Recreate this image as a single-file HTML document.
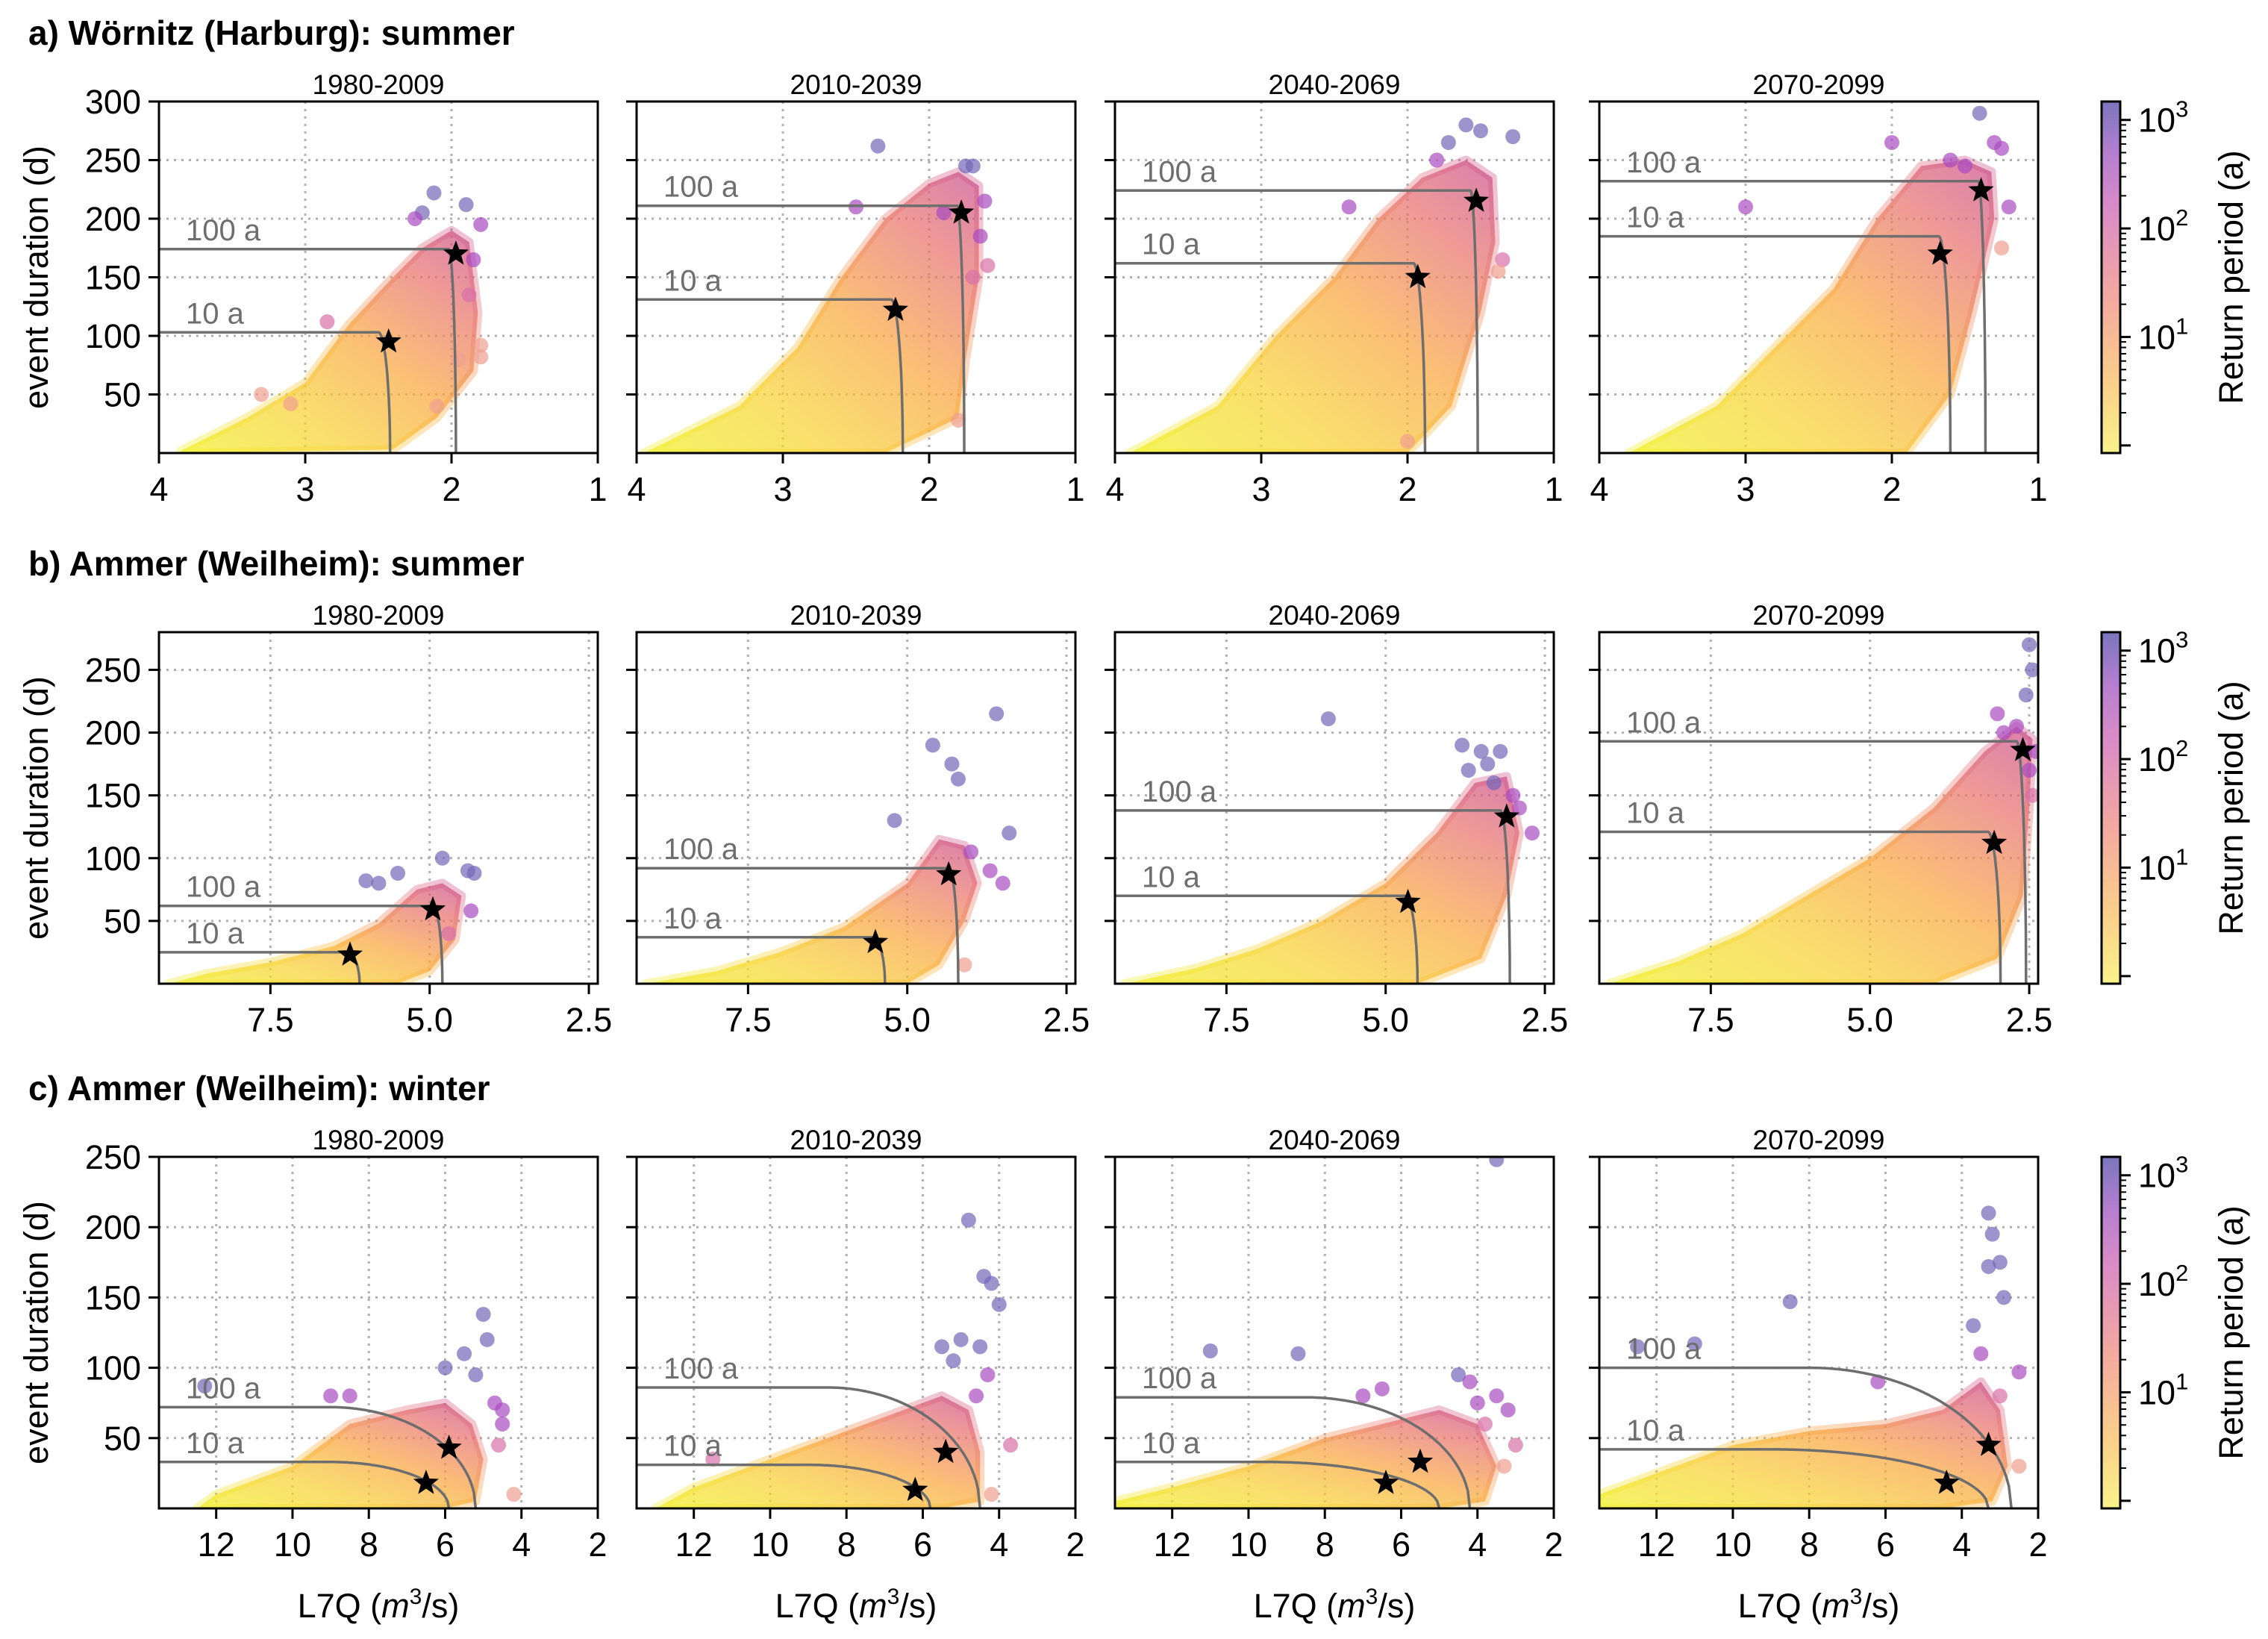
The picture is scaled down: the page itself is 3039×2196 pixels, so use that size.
<!DOCTYPE html>
<html><head><meta charset="utf-8">
<style>
html,body{margin:0;padding:0;background:#fff;}
svg{display:block;font-family:"Liberation Sans","DejaVu Sans",sans-serif;}
</style></head>
<body>
<svg id="fig" width="3039" height="2196" viewBox="0 0 3039 2196" xmlns="http://www.w3.org/2000/svg">
<defs>
<linearGradient id="cloudGrad" x1="0" y1="1" x2="1" y2="0">
<stop offset="0" stop-color="#f0f020"/>
<stop offset="0.3" stop-color="#f8d030"/>
<stop offset="0.55" stop-color="#f9a53a"/>
<stop offset="0.8" stop-color="#e8706a"/>
<stop offset="1" stop-color="#c8488a"/>
</linearGradient>
<linearGradient id="cbGrad" x1="0" y1="1" x2="0" y2="0">
<stop offset="0" stop-color="#f9f38a"/>
<stop offset="0.2" stop-color="#fbcf8a"/>
<stop offset="0.45" stop-color="#f2a8a0"/>
<stop offset="0.7" stop-color="#d98bc8"/>
<stop offset="0.85" stop-color="#b67ed0"/>
<stop offset="1" stop-color="#7a76bc"/>
</linearGradient>
</defs>
</svg>
<script>
// ---- data ----
const periods = ["1980-2009","2010-2039","2040-2069","2070-2099"];
const rowTitles = ["a) Wörnitz (Harburg): summer","b) Ammer (Weilheim): summer","c) Ammer (Weilheim): winter"];
const xDomains = [[4,1],[9.25,2.36],[13.5,2]];
const yDomains = [[0,300],[0,280],[0,250]];
const xTicks = [[4,3,2,1],[7.5,5.0,2.5],[12,10,8,6,4,2]];
const xTickLabels = [["4","3","2","1"],["7.5","5.0","2.5"],["12","10","8","6","4","2"]];
const yTicks = [[50,100,150,200,250,300],[50,100,150,200,250],[50,100,150,200,250]];
// return level curves: [level, xStartBend, xEnd] for 100 a and 10 a
const lvl100 = [
 [[174,2.02,1.97],[211,1.81,1.76],[224,1.57,1.52],[232,1.41,1.36]],
 [[62,4.95,4.8],[92,4.35,4.2],[138,3.2,3.05],[193,2.7,2.55]],
 [[72,9.0,5.2],[86,8.5,4.5],[79,8.5,4.2],[100,8.0,2.7]]];
const lvl10 = [
 [[103,2.5,2.42],[131,2.26,2.18],[162,1.96,1.88],[185,1.68,1.6]],
 [[25,6.3,6.1],[37,5.55,5.35],[70,4.7,4.5],[121,3.15,2.95]],
 [[33,9.0,5.9],[31,9.0,5.8],[33,9.5,5.0],[42,9.0,3.3]]];
const stars100 = [[[1.97,170],[1.78,205],[1.53,215],[1.39,224]],
 [[4.95,59],[4.35,87],[3.1,133],[2.6,186]],
 [[5.9,43],[5.4,40],[5.5,33],[3.3,45]]];
const stars10 = [[[2.43,95],[2.23,122],[1.93,150],[1.67,170]],
 [[6.25,23],[5.5,33],[4.65,65],[3.05,112]],
 [[6.5,18],[6.2,13],[6.4,18],[4.4,18]]];
const clouds = [
 [[[3.85,2],[3.4,30],[3.0,60],[2.7,110],[2.4,150],[2.2,175],[2.0,190],[1.88,180],[1.82,120],[1.85,70],[2.1,30],[2.4,3],[3.85,0]],
  [[3.95,0],[3.3,40],[2.9,90],[2.6,150],[2.3,200],[2.0,230],[1.8,240],[1.66,228],[1.66,150],[1.75,80],[1.8,30],[2.3,0]],
  [[3.9,0],[3.3,40],[2.9,100],[2.5,150],[2.2,200],[1.9,235],[1.6,250],[1.42,235],[1.4,180],[1.5,120],[1.7,40],[2.0,0]],
  [[3.8,0],[3.2,40],[2.8,90],[2.4,140],[2.1,200],[1.8,245],[1.5,250],[1.32,240],[1.3,200],[1.45,120],[1.6,50],[1.9,0]]],
 [[[9.1,0],[8.5,8],[7.5,17],[6.5,30],[5.8,48],[5.2,75],[4.8,80],[4.5,70],[4.6,35],[5.0,10],[5.5,0]],
  [[9.1,0],[8.0,10],[7.0,25],[6.0,45],[5.0,80],[4.5,115],[4.1,110],[3.9,80],[4.1,50],[4.5,15],[5.0,0]],
  [[9.1,0],[8.0,12],[7.0,28],[6.0,50],[5.0,80],[4.2,120],[3.6,160],[3.1,165],[2.9,120],[3.1,70],[3.5,20],[4.5,0]],
  [[9.1,0],[8.0,18],[7.0,40],[6.0,70],[5.0,100],[4.0,140],[3.2,185],[2.7,205],[2.45,195],[2.5,140],[2.6,70],[3.0,20],[4.0,0]]],
 [[[12.5,0],[12,10],[10,30],[8.5,60],[7,70],[6,75],[5.3,60],[5,35],[5.2,5],[6,0]],
  [[13,0],[12,15],[10,35],[8,55],[6.5,70],[5.5,80],[4.8,70],[4.5,40],[4.5,5],[5.5,0]],
  [[13.5,5],[12,15],[10,30],[8,50],[6.5,60],[5,70],[4.0,60],[3.5,30],[3.8,5],[5,0],[13.5,0]],
  [[13.5,10],[12,25],[10,45],[8,55],[6,60],[4.5,70],[3.5,90],[3.0,70],[2.8,30],[3.2,5],[4.5,0],[13.5,0]]]];
const outliers = [
 [[[2.12,222],[1.9,212],[2.2,205],[1.8,195],[2.25,200],[1.85,165],[1.88,135],[1.8,92],[1.8,82],[3.3,50],[3.1,42],[2.85,112],[2.1,40],[1.95,80]],
  [[2.35,262],[1.75,245],[1.7,245],[1.62,215],[1.65,185],[1.7,150],[1.8,28],[1.6,160],[2.5,210],[1.9,205]],
  [[1.6,280],[1.5,275],[1.28,270],[1.72,265],[1.35,165],[1.38,155],[2.4,210],[2.0,10],[1.8,250]],
  [[1.4,290],[1.3,265],[1.25,260],[1.2,210],[2.0,265],[1.6,250],[3.0,210],[1.25,175],[1.5,245]]],
 [[[4.8,100],[4.4,90],[4.3,88],[4.35,58],[5.5,88],[5.8,80],[6.0,82],[4.7,40]],
  [[4.6,190],[4.3,175],[4.2,163],[3.6,215],[3.4,120],[3.7,90],[3.5,80],[4.1,15],[5.2,130],[4.0,105]],
  [[5.9,211],[3.8,190],[3.5,185],[3.2,185],[3.4,175],[2.7,120],[3.0,150],[3.7,170],[3.3,160],[2.9,140]],
  [[2.5,270],[2.45,250],[2.55,230],[2.4,185],[3.0,215],[2.9,200],[2.7,205],[2.45,150],[2.5,170]]],
 [[[12.3,87],[9,80],[8.5,80],[6,100],[5.5,110],[5,138],[4.9,120],[4.5,70],[4.6,45],[4.2,10],[4.7,75],[5.2,95],[4.5,60]],
  [[4.8,205],[4.4,165],[4.2,160],[4.0,145],[4.5,115],[5.0,120],[5.5,115],[4.3,95],[3.7,45],[4.2,10],[5.2,105],[11.5,35],[4.6,80]],
  [[3.5,248],[11,112],[8.7,110],[4.5,95],[4.2,90],[4,75],[3.5,80],[3.2,70],[3.3,30],[3.0,45],[7,80],[6.5,85],[3.8,60]],
  [[3.3,210],[3.2,195],[3.0,175],[3.3,172],[2.9,150],[8.5,147],[3.7,130],[2.5,97],[2.5,30],[11,117],[3.5,110],[6.2,90],[12.5,115],[3.0,80]]]];
const cbTickLabels = ["1","2","3"];

// ---- layout ----
const colX = [213,853,1494,2143];
const rowY = [136,847,1550];
const W = 588, H = 471;
const NS = "http://www.w3.org/2000/svg";
const svg = document.getElementById('fig');
function el(tag, attrs, parent){const e=document.createElementNS(NS,tag);for(const k in attrs)e.setAttribute(k,attrs[k]);(parent||svg).appendChild(e);return e;}

function starPts(cx,cy,R){let p=[];for(let i=0;i<10;i++){const r=i%2?R*0.42:R;const a=-Math.PI/2+i*Math.PI/5;p.push((cx+r*Math.cos(a)).toFixed(1)+","+(cy+r*Math.sin(a)).toFixed(1));}return p.join(" ");}

for(let r=0;r<3;r++){
  const title = el('text',{x:38,y:rowY[r]-76,'font-size':46,'font-weight':'bold',fill:'#000'});
  
  
  title.textContent = rowTitles[r];
  const [x0d,x1d]=xDomains[r],[y0d,y1d]=yDomains[r];
  for(let c=0;c<4;c++){
    const L=colX[c],T=rowY[r];
    const sx=v=>L+(x0d-v)/(x0d-x1d)*W;
    const sy=v=>T+H-(v-y0d)/(y1d-y0d)*H;
    const g=el('g',{});
    
    
    const clip=el('clipPath',{id:'clip'+r+c},g);
    el('rect',{x:L,y:T,width:W,height:H},clip);
    xTicks[r].forEach(v=>{const X=sx(v);if(X>L+2&&X<L+W-2){const gl=el('line',{x1:X,y1:T,x2:X,y2:T+H,stroke:'#b0b0b0','stroke-width':3,'stroke-dasharray':'3,7'},g);}});
    yTicks[r].forEach(v=>{const Y=sy(v);if(Y>T+2){const gl=el('line',{x1:L,y1:Y,x2:L+W,y2:Y,stroke:'#b0b0b0','stroke-width':3,'stroke-dasharray':'3,7'},g);}});
    const dg=el('g',{'clip-path':'url(#clip'+r+c+')'},g);
    const cp=clouds[r][c].map(p=>sx(p[0]).toFixed(1)+","+sy(p[1]).toFixed(1)).join(" ");
    const cl=el('polygon',{points:cp,fill:'url(#cloudGrad)','fill-opacity':0.7,stroke:'url(#cloudGrad)','stroke-width':12,'stroke-linejoin':'round','stroke-opacity':0.35},dg);
    
    
    const l100=lvl100[r][c][0],l10=lvl10[r][c][0];
    outliers[r][c].forEach(p=>{
      let col = p[1]>l100*1.15?'#7466b8':(p[1]>l100*0.8?'#a94bc0':(p[1]>l10?'#d870a8':'#f0a090'));
      const d=el('circle',{cx:sx(p[0]),cy:sy(p[1]),r:10,fill:col,'fill-opacity':0.7},dg);
      
      
    });
    [[lvl100[r][c],'100 a'],[lvl10[r][c],'10 a']].forEach(([lv,lab])=>{
      const [Y0,a,b]=lv;let pts=[];
      const n=80;
      pts.push([x0d,Y0]);
      for(let i=0;i<=n;i++){const v=a-(a-b)*i/n;const t=(a-v)/(a-b);const y=Y0*Math.sqrt(Math.max(0,1-t*t));pts.push([v,y]);}
      pts.push([b,0]);
      const pl=el('polyline',{points:pts.map(p=>sx(p[0]).toFixed(1)+","+sy(p[1]).toFixed(1)).join(" "),fill:'none',stroke:'#6e6e6e','stroke-width':3.5},dg);
      
      
      const tx=el('text',{x:L+36,y:sy(Y0)-12,'font-size':40,fill:'#6e6e6e'},g);
      
      
      tx.textContent=lab;
    });
    [stars100[r][c],stars10[r][c]].forEach(s=>{
      const st=el('polygon',{points:starPts(sx(s[0]),sy(s[1]),18),fill:'#000'},g);
      
      
    });
    const fr=el('rect',{x:L,y:T,width:W,height:H,fill:'none',stroke:'#000','stroke-width':3},g);
    
    
    xTicks[r].forEach((v,i)=>{const X=sx(v);
      el('line',{x1:X,y1:T+H,x2:X,y2:T+H+14,stroke:'#000','stroke-width':3},g);
      const t=el('text',{x:X,y:T+H+64,'font-size':45,'text-anchor':'middle',fill:'#000'},g);
      
      
      t.textContent=xTickLabels[r][i];});
    yTicks[r].forEach(v=>{const Y=sy(v);
      el('line',{x1:L-14,y1:Y,x2:L,y2:Y,stroke:'#000','stroke-width':3},g);
      if(c===0){const t=el('text',{x:L-24,y:Y+16,'font-size':45,'text-anchor':'end',fill:'#000'},g);
        
        
        t.textContent=String(v);}});
    const pt=el('text',{x:L+W/2,y:T-10,'font-size':37,'text-anchor':'middle',fill:'#000'},g);
    
    
    pt.textContent=periods[c];
    if(r===2){const xl=el('text',{x:L+W/2,y:T+H+146,'font-size':45,'text-anchor':'middle',fill:'#000'},g);
      
      
      xl.innerHTML='L7Q (<tspan font-style="italic">m</tspan><tspan font-size="30" dy="-18">3</tspan><tspan dy="18">/s)</tspan>';}
  }
  const yt=el('text',{x:0,y:0,'font-size':45,'text-anchor':'middle',fill:'#000',transform:'translate(64,'+(rowY[r]+H/2)+') rotate(-90)'});
  
  
  yt.textContent='event duration (d)';
  const cbx=2816,cbw=25,T=rowY[r];
  const cb=el('rect',{x:cbx,y:T,width:cbw,height:H,fill:'url(#cbGrad)',stroke:'#000','stroke-width':3});
  
  
  const lmax=3.17,lmin=-0.07;
  const cy=v=>T+(lmax-v)/(lmax-lmin)*H;
  for(let d=0;d<=3;d++){for(let m=1;m<10;m++){const v=Math.log10(m)+d;if(v<lmin||v>lmax)continue;
    el('line',{x1:cbx+cbw,y1:cy(v),x2:cbx+cbw+(m===1?14:8),y2:cy(v),stroke:'#000','stroke-width':m===1?3:2});}}
  cbTickLabels.forEach(e=>{const v=+e;
    const t=el('text',{x:cbx+cbw+24,y:cy(v)+16,'font-size':45,fill:'#000'});
    
    
    t.innerHTML='10<tspan font-size="31" dy="-20">'+e+'</tspan>';});
  const cbl=el('text',{x:0,y:0,'font-size':45,'text-anchor':'middle',fill:'#000',transform:'translate(3005,'+(T+H/2)+') rotate(-90)'});
  
  
  cbl.textContent='Return period (a)';
}
</script>
</body></html>
